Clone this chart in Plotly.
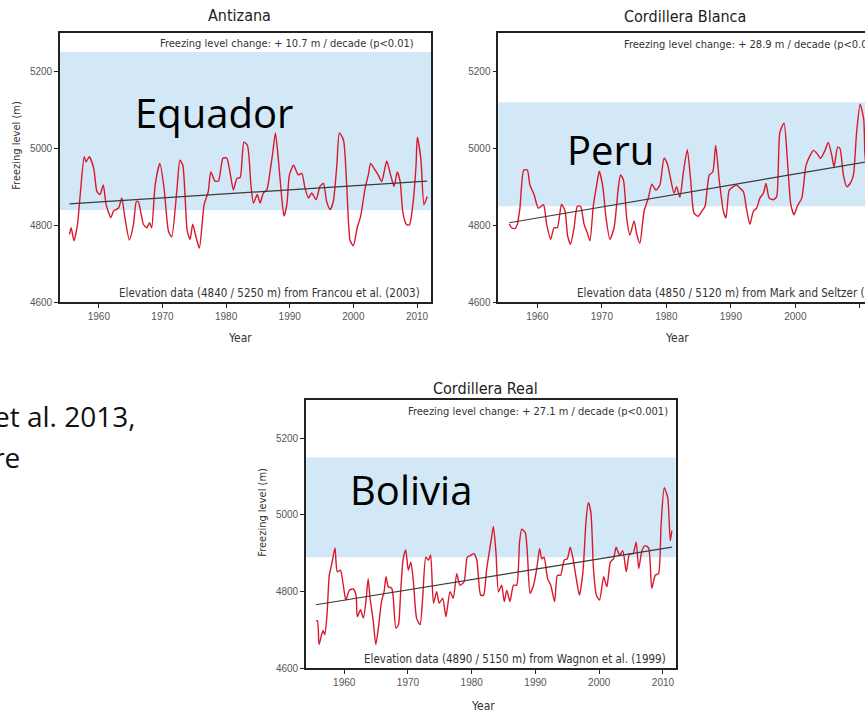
import plotly.graph_objects as go

# ---------------- data ----------------
years_antizana = [1955.4, 1955.65, 1956.1, 1956.65, 1957.1, 1957.7, 1958.0, 1958.5, 1959.2, 1959.7,
                  1960.2, 1960.7, 1961.15, 1961.9, 1962.3, 1963.1, 1963.6, 1964.1, 1964.8, 1965.45,
                  1965.9, 1966.2, 1967.0, 1967.55, 1967.95, 1968.3, 1968.85, 1969.6, 1970.25, 1970.95,
                  1971.45, 1972.25, 1972.75, 1973.2, 1973.9, 1974.35, 1974.75, 1975.3, 1975.8, 1976.55,
                  1977.2, 1977.6, 1978.25, 1978.8, 1979.5, 1980.1, 1980.6, 1981.15, 1981.7, 1982.2,
                  1982.8, 1983.35, 1983.9, 1984.3, 1984.9, 1985.35, 1985.85, 1986.4, 1986.9, 1987.35,
                  1987.75, 1988.2, 1988.75, 1989.1, 1989.55, 1989.95, 1990.6, 1991.35, 1991.9, 1992.4,
                  1992.95, 1993.45, 1994.15, 1994.75, 1995.3, 1995.8, 1996.35, 1996.85, 1997.4, 1997.8,
                  1998.45, 1998.95, 1999.5, 2000.0, 2000.6, 2001.15, 2001.85, 2002.35, 2002.7, 2003.25,
                  2003.9, 2004.45, 2005.25, 2005.85, 2006.4, 2006.9, 2007.35, 2007.75, 2008.3, 2008.8,
                  2009.35, 2009.85, 2010.05, 2010.6, 2011.1, 2011.6]
fl_antizana = [4777, 4794, 4760, 4803, 4884, 4978, 4965, 4978, 4948, 4888,
               4880, 4905, 4854, 4820, 4837, 4845, 4871, 4820, 4762, 4803,
               4862, 4862, 4803, 4794, 4807, 4794, 4905, 4961, 4897, 4785,
               4770, 4888, 4969, 4956, 4785, 4764, 4803, 4768, 4741, 4854,
               4888, 4939, 4915, 4915, 4974, 4975, 4939, 4892, 4922, 4924,
               5016, 5008, 4905, 4858, 4880, 4858, 4884, 4892, 4939, 4991,
               5040, 4974, 4871, 4824, 4854, 4931, 4956, 4931, 4935, 4897,
               4871, 4884, 4867, 4901, 4909, 4862, 4841, 4862, 4956, 5040,
               5021, 4905, 4760, 4747, 4794, 4824, 4897, 4931, 4961, 4948,
               4931, 4914, 4967, 4931, 4901, 4939, 4914, 4837, 4803, 4801,
               4854, 4956, 5029, 4974, 4854, 4875]

years_blanca = [1955.65, 1956.0, 1956.55, 1956.9, 1957.3, 1957.9, 1958.45, 1958.85, 1959.5, 1960.15,
                1960.95, 1961.45, 1962.05, 1962.6, 1963.1, 1963.75, 1964.3, 1964.7, 1965.15, 1965.7,
                1966.2, 1966.7, 1967.25, 1967.75, 1968.15, 1968.7, 1969.2, 1969.6, 1970.15, 1970.65,
                1971.25, 1971.9, 1972.55, 1972.9, 1973.35, 1973.85, 1974.35, 1975.0, 1975.4, 1975.9,
                1976.55, 1977.2, 1977.75, 1978.4, 1979.0, 1979.65, 1980.15, 1980.65, 1981.2, 1981.6,
                1982.1, 1982.65, 1983.25, 1983.75, 1984.3, 1984.95, 1985.5, 1986.0, 1986.65, 1987.2,
                1987.65, 1988.2, 1988.85, 1989.25, 1989.75, 1990.4, 1990.9, 1991.4, 1991.95, 1992.45,
                1992.95, 1993.5, 1994.0, 1994.5, 1995.05, 1995.45, 1995.95, 1996.6, 1997.1, 1997.6,
                1998.25, 1998.75, 1999.3, 1999.8, 2000.3, 2001.0, 2001.65, 2002.3, 2002.8, 2003.4,
                2003.9, 2004.6, 2005.1, 2005.65, 2006.0, 2006.55, 2006.9, 2007.45, 2007.95, 2008.5,
                2009.0, 2009.5, 2010.05, 2010.6, 2010.8, 2011.3, 2011.6]
fl_blanca = [4804, 4794, 4792, 4803, 4845, 4944, 4944, 4905, 4880, 4845,
             4854, 4803, 4764, 4794, 4794, 4855, 4837, 4773, 4751, 4794,
             4850, 4850, 4803, 4781, 4760, 4854, 4905, 4941, 4901, 4820,
             4764, 4794, 4897, 4931, 4918, 4820, 4775, 4812, 4778, 4754,
             4837, 4871, 4907, 4892, 4905, 4975, 4961, 4922, 4884, 4901,
             4873, 4939, 4997, 4922, 4832, 4824, 4837, 4850, 4931, 4939,
             5008, 4918, 4837, 4820, 4892, 4901, 4905, 4897, 4888, 4841,
             4803, 4837, 4845, 4871, 4884, 4909, 4871, 4867, 4875, 5042,
             5066, 4974, 4854, 4828, 4850, 4871, 4956, 4982, 4995, 4986,
             4974, 4995, 5016, 4982, 4952, 5003, 5001, 4931, 4901, 4909,
             4931, 5042, 5115, 5076, 4982, 4920, 4945]

years_real = [1955.55, 1955.8, 1956.05, 1956.45, 1956.7, 1956.95, 1957.3, 1957.65, 1958.0, 1958.55,
              1958.9, 1959.4, 1959.85, 1960.25, 1960.8, 1961.4, 1961.85, 1962.05, 1962.55, 1963.0,
              1963.4, 1963.75, 1964.05, 1964.55, 1964.95, 1965.35, 1965.85, 1966.25, 1966.55, 1966.9,
              1967.45, 1967.7, 1968.1, 1968.5, 1968.85, 1969.25, 1969.65, 1970.05, 1970.45, 1970.85,
              1971.35, 1971.9, 1972.3, 1972.8, 1973.2, 1973.55, 1974.0, 1974.5, 1974.9, 1975.45,
              1975.95, 1976.6, 1977.1, 1977.65, 1978.15, 1978.8, 1979.3, 1979.85, 1980.35, 1980.8,
              1981.4, 1981.85, 1982.35, 1983.0, 1983.4, 1983.8, 1984.2, 1984.7, 1985.1, 1985.5,
              1986.0, 1986.55, 1987.05, 1987.5, 1987.85, 1988.4, 1988.75, 1989.15, 1989.7, 1990.2,
              1990.65, 1991.0, 1991.35, 1991.9, 1992.4, 1993.0, 1993.45, 1993.95, 1994.5, 1995.0,
              1995.45, 1995.85, 1996.4, 1996.9, 1997.45, 1997.95, 1998.3, 1998.7, 1999.1, 1999.55,
              2000.05, 2000.7, 2001.2, 2001.75, 2002.25, 2002.65, 2003.2, 2003.7, 2004.25, 2004.75,
              2005.3, 2005.8, 2006.2, 2006.7, 2007.2, 2007.75, 2008.25, 2008.8, 2009.3, 2009.7,
              2010.2, 2010.75, 2011.15, 2011.4]
fl_real = [4724, 4724, 4662, 4688, 4698, 4688, 4740, 4843, 4869, 4914,
           4852, 4856, 4817, 4778, 4804, 4807, 4791, 4735, 4753, 4731,
           4774, 4834, 4783, 4723, 4662, 4705, 4774, 4800, 4839, 4813,
           4809, 4783, 4705, 4714, 4800, 4886, 4909, 4856, 4877, 4826,
           4731, 4714, 4783, 4890, 4882, 4896, 4770, 4800, 4770, 4783,
           4735, 4800, 4783, 4847, 4817, 4826, 4890, 4895, 4899, 4882,
           4791, 4791, 4860, 4929, 4970, 4903, 4800, 4817, 4774, 4804,
           4774, 4817, 4817, 4929, 4963, 4954, 4895, 4796, 4817, 4860,
           4912, 4886, 4890, 4834, 4817, 4774, 4843, 4843, 4882, 4886,
           4916, 4890, 4834, 4791, 4852, 4989, 5032, 5006, 4860, 4791,
           4778, 4839, 4813, 4877, 4886, 4916, 4895, 4907, 4852, 4899,
           4899, 4929, 4860, 4907, 4920, 4914, 4809, 4843, 4847, 4972,
           5071, 5045, 4933, 4959]

# linear trend: value at first and last year of each series
trend_antizana = [4856, 4915]
trend_blanca = [4807, 4967]
trend_real = [4766, 4916]

panel_titles = ["Antizana", "Cordillera Blanca", "Cordillera Real"]
country_labels = ["Equador", "Peru", "Bolivia"]
trend_texts = ["Freezing level change: + 10.7 m / decade (p<0.01)",
               "Freezing level change: + 28.9 m / decade (p<0.001)",
               "Freezing level change: + 27.1 m / decade (p<0.001)"]
source_texts = ["Elevation data (4840 / 5250 m) from Francou et al. (2003)",
                "Elevation data (4850 / 5120 m) from Mark and Seltzer (2003)",
                "Elevation data (4890 / 5150 m) from Wagnon et al. (1999)"]
band_low = [4840, 4850, 4890]
band_high = [5250, 5120, 5150]
x_tick_vals = [1960, 1970, 1980, 1990, 2000, 2010]
x_tick_text = ["1960", "1970", "1980", "1990", "2000", "2010"]
y_tick_vals = [4600, 4800, 5000, 5200]
y_tick_text = ["4600", "4800", "5000", "5200"]

# ---------------- layout helpers ----------------
W, H = 865, 720
def px(x):
    return x / W
def py(y):
    return 1 - y / H

NARROW = "Liberation Sans Narrow, Arial Narrow, DejaVu Sans Condensed, sans-serif"
SLIDE = "Open Sans, Noto Sans, sans-serif"
RED = "#d9182c"
BAND = "#d3e8f7"

series = [(years_antizana, fl_antizana, trend_antizana),
          (years_blanca, fl_blanca, trend_blanca),
          (years_real, fl_real, trend_real)]

# plot frames in pixels: (left, top, right, bottom), x ranges
frames = [(60, 33, 431, 305), (498.3, 33.3, 865, 305), (306, 403.3, 675.7, 674)]
x_ranges = [[1953.9, 2012.2], [1953.95, 2010.8], [1954.0, 2012.0]]
y_range = [4600, 5300]

fig = go.Figure()
shapes = []
annotations = []
for i, ((yrs, vals, tr), (l, t, r, b)) in enumerate(zip(series, frames)):
    n = "" if i == 0 else str(i + 1)
    xa, ya = "x" + n, "y" + n
    fig.add_trace(go.Scatter(x=yrs, y=vals, mode="lines",
                             line=dict(color=RED, width=1.4, shape="spline", smoothing=0.6),
                             xaxis=xa, yaxis=ya, showlegend=False, hoverinfo="skip"))
    fig.add_trace(go.Scatter(x=[yrs[0], yrs[-1]], y=tr, mode="lines",
                             line=dict(color="#3a3a3a", width=1.2),
                             xaxis=xa, yaxis=ya, showlegend=False, hoverinfo="skip"))
    axis_common = dict(showgrid=False, zeroline=False, showline=True, linecolor="#222",
                       linewidth=1.6, ticks="outside", ticklen=4, tickcolor="#222",
                       tickfont=dict(family="Liberation Sans, Arial, sans-serif", size=10, color="#555"))
    fig.update_layout(**{
        ("xaxis" + n): dict(domain=[px(l), min(px(r), 1.0)], range=x_ranges[i], anchor=ya,
                            tickvals=x_tick_vals, ticktext=x_tick_text, mirror=True, **axis_common),
        ("yaxis" + n): dict(domain=[py(b), py(t)], range=y_range, anchor=xa,
                            tickvals=y_tick_vals, ticktext=y_tick_text,
                            mirror=(True if i != 1 else False), **axis_common),
    })
    shapes.append(dict(type="rect", xref=xa + " domain", yref=ya, x0=0, x1=1,
                       y0=band_low[i], y1=band_high[i], fillcolor=BAND, line=dict(width=0),
                       layer="below"))

# titles and texts (pixel positions)
title_pos = [(240, 16), (685, 17), (485, 392)]
for (x, y), txt in zip(title_pos, panel_titles):
    annotations.append(dict(x=px(x), y=py(y), xref="paper", yref="paper", text=txt, showarrow=False,
                            xanchor="center", yanchor="middle",
                            font=dict(family=NARROW, size=16, color="#222")))

trend_pos = [(416, 44, "right"), (622, 45, "left"), (670, 415, "right")]
for (x, y, anc), txt in zip(trend_pos, trend_texts):
    annotations.append(dict(x=px(x), y=py(y), xref="paper", yref="paper", text=txt, showarrow=False,
                            xanchor=anc, yanchor="middle",
                            font=dict(family=NARROW, size=11, color="#333")))

source_pos = [(422, 295, "right"), (575, 295, "left"), (668, 665, "right")]
for (x, y, anc), txt in zip(source_pos, source_texts):
    annotations.append(dict(x=px(x), y=py(y), xref="paper", yref="paper", text=txt, showarrow=False,
                            xanchor=anc, yanchor="middle",
                            font=dict(family=NARROW, size=11.5, color="#333")))

country_pos = [(133, 113), (565, 151), (348, 494)]
for (x, y), txt in zip(country_pos, country_labels):
    annotations.append(dict(x=px(x), y=py(y), xref="paper", yref="paper", text=txt, showarrow=False,
                            xanchor="left", yanchor="middle",
                            font=dict(family=SLIDE, size=40, color="#000")))

# axis titles
for (x, y) in [(17, 147), (263, 517)]:
    annotations.append(dict(x=px(x), y=py(y), xref="paper", yref="paper", text="Freezing level (m)",
                            showarrow=False, textangle=-90, xanchor="center", yanchor="middle",
                            font=dict(family=NARROW, size=11, color="#333")))
for (x, y) in [(240, 341), (677, 341), (483, 712)]:
    annotations.append(dict(x=px(x), y=py(y), xref="paper", yref="paper", text="Year",
                            showarrow=False, xanchor="center", yanchor="middle",
                            font=dict(family=NARROW, size=12, color="#333")))

# fragments of the surrounding slide text (cut by the left edge, as in the reference)
annotations.append(dict(x=px(138), y=py(419), xref="paper", yref="paper", text="et al. 2013,",
                        showarrow=False, xanchor="right", yanchor="middle",
                        font=dict(family=SLIDE, size=28, color="#111")))
annotations.append(dict(x=px(22), y=py(461), xref="paper", yref="paper", text="ture",
                        showarrow=False, xanchor="right", yanchor="middle",
                        font=dict(family=SLIDE, size=28, color="#111")))

fig.update_layout(width=W, height=H, margin=dict(l=0, r=0, t=0, b=0),
                  paper_bgcolor="white", plot_bgcolor="white",
                  shapes=shapes, annotations=annotations, showlegend=False)

fig.write_html("out.html")
